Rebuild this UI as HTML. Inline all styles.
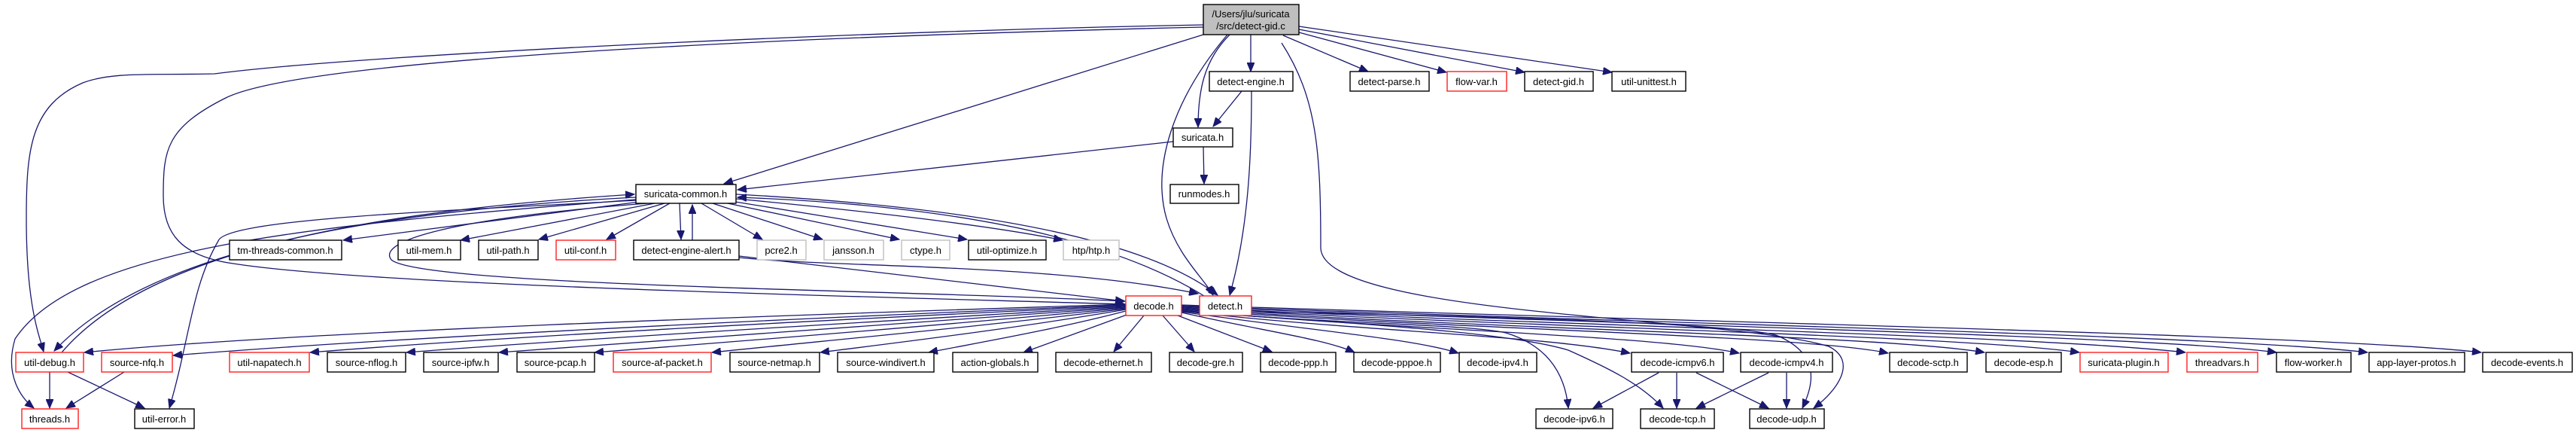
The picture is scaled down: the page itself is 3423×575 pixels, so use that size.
<!DOCTYPE html>
<html><head><meta charset="utf-8"><style>
html,body{margin:0;padding:0;background:#fff;}
svg{display:block;}
text{font-family:"Liberation Sans",Arial,sans-serif;font-size:13px;text-anchor:middle;fill:#000;}
.n{fill:#fff;stroke:#000;stroke-width:1.4;}
.r{fill:#fff;stroke:#ff2020;stroke-width:1.4;}
.g{fill:#fff;stroke:#bfbfbf;stroke-width:1.4;}
.e{fill:none;stroke:#191970;stroke-width:1.3;marker-end:url(#a);}
</style></head><body>
<svg width="3423" height="575" viewBox="0 0 3423 575" xmlns="http://www.w3.org/2000/svg">
<defs><marker id="a" markerUnits="userSpaceOnUse" markerWidth="13" markerHeight="10" refX="12" refY="5" orient="auto"><path d="M0,0 L12,5 L0,10 z" fill="#191970" stroke="#191970"/></marker></defs>
<g>
<!-- root edges -->
<path class="e" d="M1662,46 L1662,95"/>
<path class="e" d="M1705,47 L1818,95"/>
<path class="e" d="M1726,43 L1922,96"/>
<path class="e" d="M1726,39 L2026,96"/>
<path class="e" d="M1726,35 L2142,96"/>
<path class="e" d="M1634,46 C1600,80 1592,120 1592,169"/>
<path class="e" d="M1631,46 C1560,130 1530,220 1550,290 C1565,340 1600,370 1612,392"/>
<path class="e" d="M1599,46 L962,244"/>
<path class="e" d="M1599,33 C1200,40 500,70 285,98 C200,100 150,95 110,110 C40,140 35,200 35,290 C35,400 50,440 58,467"/>
<path class="e" d="M1599,36 C1000,50 400,80 300,130 C220,170 217,200 217,260 C217,310 240,340 310,350 C500,380 1200,395 1495,404"/>
<path class="e" d="M1703,57 C1750,130 1755,200 1755,330 C1760,420 2300,420 2430,460 C2470,480 2440,520 2410,542"/>
<!-- detect-engine -->
<path class="e" d="M1650,121 L1612,168"/>
<path class="e" d="M1663,121 C1663,200 1660,300 1634,392"/>
<!-- suricata.h -->
<path class="e" d="M1559,188 L980,252"/>
<path class="e" d="M1599,195 L1600,244"/>
<!-- suricata-common -->
<path class="e" d="M850,268 L456,319"/>
<path class="e" d="M870,270 L612,319"/>
<path class="e" d="M883,270 L716,318"/>
<path class="e" d="M890,270 L806,318"/>
<path class="e" d="M903,270 L905,318"/>
<path class="e" d="M920,319 L920,272"/>
<path class="e" d="M932,270 L1013,318"/>
<path class="e" d="M947,270 L1093,318"/>
<path class="e" d="M967,270 L1195,318"/>
<path class="e" d="M977,268 L1285,318"/>
<path class="e" d="M978,264 C1150,280 1320,300 1412,319"/>
<path class="e" d="M978,258 C1200,270 1500,300 1618,392"/>
<path class="e" d="M1600,393 C1450,300 1200,270 980,262"/>
<path class="e" d="M860,270 C600,290 500,320 520,345 C560,380 1200,385 1495,400"/>
<path class="e" d="M845,262 C500,280 200,330 72,466"/>
<path class="e" d="M82,468 C200,330 500,280 843,258"/>
<path class="e" d="M845,265 C400,300 100,330 20,450 C5,500 30,530 45,542"/>
<path class="e" d="M845,266 C600,280 300,290 290,320 C255,380 252,450 225,542"/>
<!-- util-debug / nfq -->
<path class="e" d="M66,494 L66,542"/>
<path class="e" d="M90,494 L192,542"/>
<path class="e" d="M165,494 L88,542"/>
<!-- detect-engine-alert -->
<path class="e" d="M982,340 L1494,400"/>
<path class="e" d="M982,342 C1100,355 1400,350 1592,390"/>
<!-- decode.h left fan -->
<path class="e" d="M1496,404 C1000,420 400,440 112,468"/>
<path class="e" d="M1496,405 C1000,425 500,450 230,472"/>
<path class="e" d="M1496,406 C1100,425 700,445 412,468"/>
<path class="e" d="M1496,407 C1150,428 800,448 540,468"/>
<path class="e" d="M1496,408 C1200,430 900,450 663,468"/>
<path class="e" d="M1496,409 C1250,432 1000,452 790,468"/>
<path class="e" d="M1496,410 C1300,434 1100,452 946,468"/>
<path class="e" d="M1496,411 C1350,436 1200,454 1090,468"/>
<path class="e" d="M1496,413 C1400,438 1300,455 1234,468"/>
<path class="e" d="M1500,417 L1360,468"/>
<path class="e" d="M1520,419 L1480,467"/>
<path class="e" d="M1545,419 L1587,467"/>
<path class="e" d="M1565,419 L1690,467"/>
<!-- decode.h right fan -->
<path class="e" d="M1570,415 C1680,440 1760,450 1800,468"/>
<path class="e" d="M1570,414 C1750,440 1880,450 1938,469"/>
<path class="e" d="M1570,413 C1800,440 2050,445 2166,469"/>
<path class="e" d="M1570,412 C1850,438 2200,445 2311,469"/>
<path class="e" d="M1570,411 C1900,436 2400,445 2509,469"/>
<path class="e" d="M1570,410 C1950,436 2500,445 2637,468"/>
<path class="e" d="M1570,409 C2000,434 2600,445 2763,468"/>
<path class="e" d="M1570,408 C2050,432 2700,445 2904,468"/>
<path class="e" d="M1570,407 C2100,430 2850,445 3025,468"/>
<path class="e" d="M1570,406 C2150,428 2950,445 3146,468"/>
<path class="e" d="M1570,405 C2200,426 3100,445 3297,468"/>
<path class="e" d="M1570,412 C1750,430 1950,430 2001,442 C2060,460 2080,500 2084,542"/>
<path class="e" d="M1570,413 C1800,430 2000,440 2084,465 C2140,490 2180,510 2210,542"/>
<path class="e" d="M1663,414 C2000,420 2300,430 2360,445 C2420,470 2410,510 2395,542"/>
<!-- icmp -->
<path class="e" d="M2204,495 L2117,542"/>
<path class="e" d="M2228,495 L2228,542"/>
<path class="e" d="M2254,495 L2350,542"/>
<path class="e" d="M2350,495 L2254,542"/>
<path class="e" d="M2374,495 L2374,542"/>
</g>
<g>
<rect x="1599" y="6" width="127" height="40" fill="#bfbfbf" stroke="#000" stroke-width="1.4"/>
<text x="1662" y="23">/Users/jlu/suricata</text><text x="1662" y="39">/src/detect-gid.c</text>
<rect class="n" x="1607" y="95" width="111" height="26"/><text x="1662" y="113">detect-engine.h</text>
<rect class="n" x="1794" y="95" width="105" height="26"/><text x="1846" y="113">detect-parse.h</text>
<rect class="r" x="1923" y="95" width="79" height="26"/><text x="1962" y="113">flow-var.h</text>
<rect class="n" x="2026" y="95" width="91" height="26"/><text x="2071" y="113">detect-gid.h</text>
<rect class="n" x="2142" y="95" width="98" height="26"/><text x="2191" y="113">util-unittest.h</text>
<rect class="n" x="1559" y="170" width="79" height="25"/><text x="1598" y="187">suricata.h</text>
<rect class="n" x="1555" y="245" width="91" height="25"/><text x="1600" y="262">runmodes.h</text>
<rect class="n" x="845" y="245" width="133" height="25"/><text x="911" y="262">suricata-common.h</text>
<rect class="n" x="305" y="319" width="149" height="26"/><text x="379" y="337">tm-threads-common.h</text>
<rect class="n" x="529" y="319" width="83" height="26"/><text x="570" y="337">util-mem.h</text>
<rect class="n" x="636" y="319" width="79" height="26"/><text x="675" y="337">util-path.h</text>
<rect class="r" x="739" y="319" width="79" height="26"/><text x="778" y="337">util-conf.h</text>
<rect class="n" x="842" y="319" width="140" height="26"/><text x="912" y="337">detect-engine-alert.h</text>
<rect class="g" x="1006" y="319" width="65" height="26"/><text x="1038" y="337">pcre2.h</text>
<rect class="g" x="1095" y="319" width="79" height="26"/><text x="1134" y="337">jansson.h</text>
<rect class="g" x="1198" y="319" width="64" height="26"/><text x="1230" y="337">ctype.h</text>
<rect class="n" x="1287" y="319" width="103" height="26"/><text x="1338" y="337">util-optimize.h</text>
<rect class="g" x="1413" y="319" width="74" height="26"/><text x="1450" y="337">htp/htp.h</text>
<rect class="r" x="1496" y="393" width="74" height="26"/><text x="1533" y="411">decode.h</text>
<rect class="r" x="1594" y="393" width="69" height="26"/><text x="1628" y="411">detect.h</text>
<rect class="r" x="21" y="468" width="90" height="26"/><text x="66" y="486">util-debug.h</text>
<rect class="r" x="135" y="468" width="94" height="26"/><text x="182" y="486">source-nfq.h</text>
<rect class="r" x="305" y="468" width="106" height="26"/><text x="358" y="486">util-napatech.h</text>
<rect class="n" x="435" y="468" width="104" height="26"/><text x="487" y="486">source-nflog.h</text>
<rect class="n" x="563" y="468" width="99" height="26"/><text x="612" y="486">source-ipfw.h</text>
<rect class="n" x="687" y="468" width="103" height="26"/><text x="738" y="486">source-pcap.h</text>
<rect class="r" x="815" y="468" width="130" height="26"/><text x="880" y="486">source-af-packet.h</text>
<rect class="n" x="970" y="468" width="119" height="26"/><text x="1029" y="486">source-netmap.h</text>
<rect class="n" x="1113" y="468" width="128" height="26"/><text x="1177" y="486">source-windivert.h</text>
<rect class="n" x="1266" y="468" width="113" height="26"/><text x="1322" y="486">action-globals.h</text>
<rect class="n" x="1403" y="468" width="127" height="26"/><text x="1466" y="486">decode-ethernet.h</text>
<rect class="n" x="1554" y="468" width="97" height="26"/><text x="1602" y="486">decode-gre.h</text>
<rect class="n" x="1675" y="468" width="100" height="26"/><text x="1725" y="486">decode-ppp.h</text>
<rect class="n" x="1799" y="468" width="115" height="26"/><text x="1856" y="486">decode-pppoe.h</text>
<rect class="n" x="1939" y="468" width="103" height="26"/><text x="1990" y="486">decode-ipv4.h</text>
<rect class="n" x="2168" y="468" width="122" height="26"/><text x="2229" y="486">decode-icmpv6.h</text>
<rect class="n" x="2313" y="468" width="122" height="26"/><text x="2374" y="486">decode-icmpv4.h</text>
<rect class="n" x="2511" y="468" width="103" height="26"/><text x="2562" y="486">decode-sctp.h</text>
<rect class="n" x="2639" y="468" width="100" height="26"/><text x="2689" y="486">decode-esp.h</text>
<rect class="r" x="2764" y="468" width="117" height="26"/><text x="2822" y="486">suricata-plugin.h</text>
<rect class="r" x="2906" y="468" width="94" height="26"/><text x="2953" y="486">threadvars.h</text>
<rect class="n" x="3025" y="468" width="99" height="26"/><text x="3074" y="486">flow-worker.h</text>
<rect class="n" x="3148" y="468" width="127" height="26"/><text x="3211" y="486">app-layer-protos.h</text>
<rect class="n" x="3299" y="468" width="119" height="26"/><text x="3358" y="486">decode-events.h</text>
<rect class="r" x="29" y="543" width="75" height="26"/><text x="66" y="561">threads.h</text>
<rect class="n" x="179" y="543" width="79" height="26"/><text x="218" y="561">util-error.h</text>
<rect class="n" x="2041" y="543" width="102" height="26"/><text x="2092" y="561">decode-ipv6.h</text>
<rect class="n" x="2180" y="543" width="98" height="26"/><text x="2229" y="561">decode-tcp.h</text>
<rect class="n" x="2325" y="543" width="99" height="26"/><text x="2374" y="561">decode-udp.h</text>
</g>
</svg>
</body></html>
